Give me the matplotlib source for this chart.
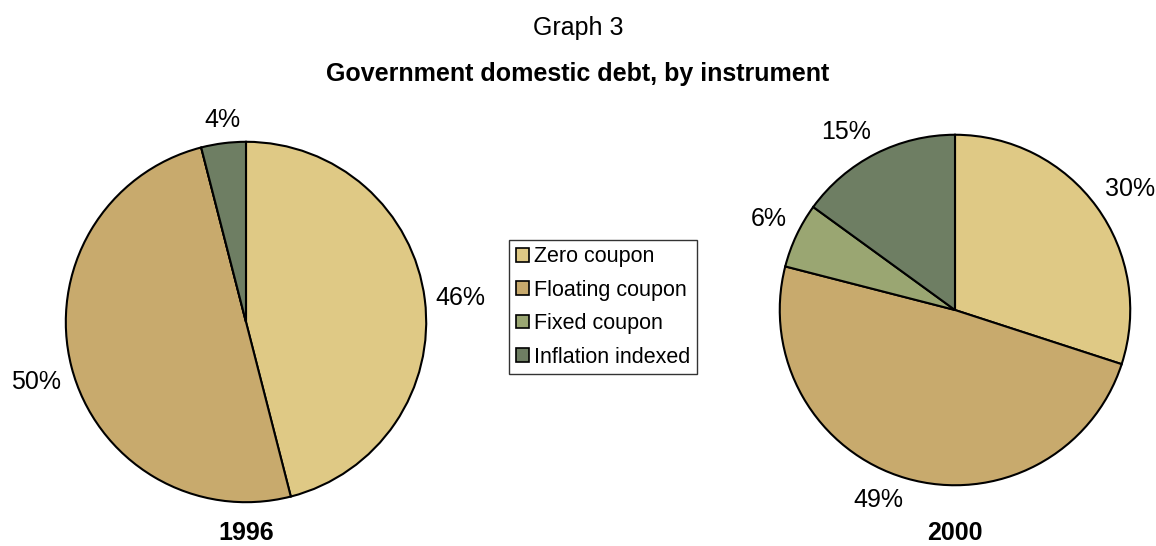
import matplotlib
matplotlib.use("Agg")
import matplotlib.pyplot as plt
import numpy as np
from matplotlib.patches import Patch

plt.rcParams['font.family'] = ['Liberation Sans', 'DejaVu Sans']

categories = ["Zero coupon", "Floating coupon", "Fixed coupon", "Inflation indexed"]
colors = ["#DFC985", "#C8AA6D", "#9AA672", "#6E7E63"]
values_1996 = [46, 50, 0, 4]
values_2000 = [30, 49, 6, 15]
years = ["1996", "2000"]

fig = plt.figure(figsize=(11.56, 5.46), dpi=100)
W, H = 1156, 546

def add_pie(cx, cy, r, vals, year):
    ax = fig.add_axes([(cx - r) / W, (H - cy - r) / H, 2 * r / W, 2 * r / H])
    wedges, _ = ax.pie(
        vals, colors=colors, startangle=90, counterclock=False,
        wedgeprops=dict(edgecolor="black", linewidth=1.5), radius=1.0)
    total = float(sum(vals))
    for w, v in zip(wedges, vals):
        if v <= 0:
            continue
        ang = np.deg2rad((w.theta1 + w.theta2) / 2)
        c, s = np.cos(ang), np.sin(ang)
        ha = "left" if c > 0.25 else ("right" if c < -0.25 else "center")
        va = "bottom" if s > 0.2 else ("top" if s < -0.2 else "center")
        d = 1.06
        ax.text(d * c, d * s, f"{100 * v / total:.0f}%", ha=ha, va=va, fontsize=18,
                clip_on=False)
    ax.set_xlim(-1.01, 1.01)
    ax.set_ylim(-1.01, 1.01)
    ax.set_aspect("equal")
    fig.text(cx / W, 1 - 533 / H, year, ha="center", va="center", fontsize=18,
             fontweight="bold")
    return ax

add_pie(246, 322, 182, values_1996, years[0])
add_pie(955, 310, 177, values_2000, years[1])

fig.text(0.5, 1 - 28 / H, "Graph 3", ha="center", va="center", fontsize=18)
fig.text(0.5, 1 - 74 / H, "Government domestic debt, by instrument", ha="center", va="center",
         fontsize=18, fontweight="bold")

handles = [Patch(facecolor=c, edgecolor="black", linewidth=1.2) for c in colors]
leg = fig.legend(handles, categories, loc="center", bbox_to_anchor=(603 / W, 1 - 307 / H),
                 fontsize=15.5, frameon=True, fancybox=False, edgecolor="black",
                 handlelength=0.6, handleheight=0.6, handletextpad=0.25,
                 labelspacing=0.58, borderpad=0.3, borderaxespad=0)
leg.get_frame().set_linewidth(1.0)

fig.savefig("out.png", dpi=100, facecolor="white")
